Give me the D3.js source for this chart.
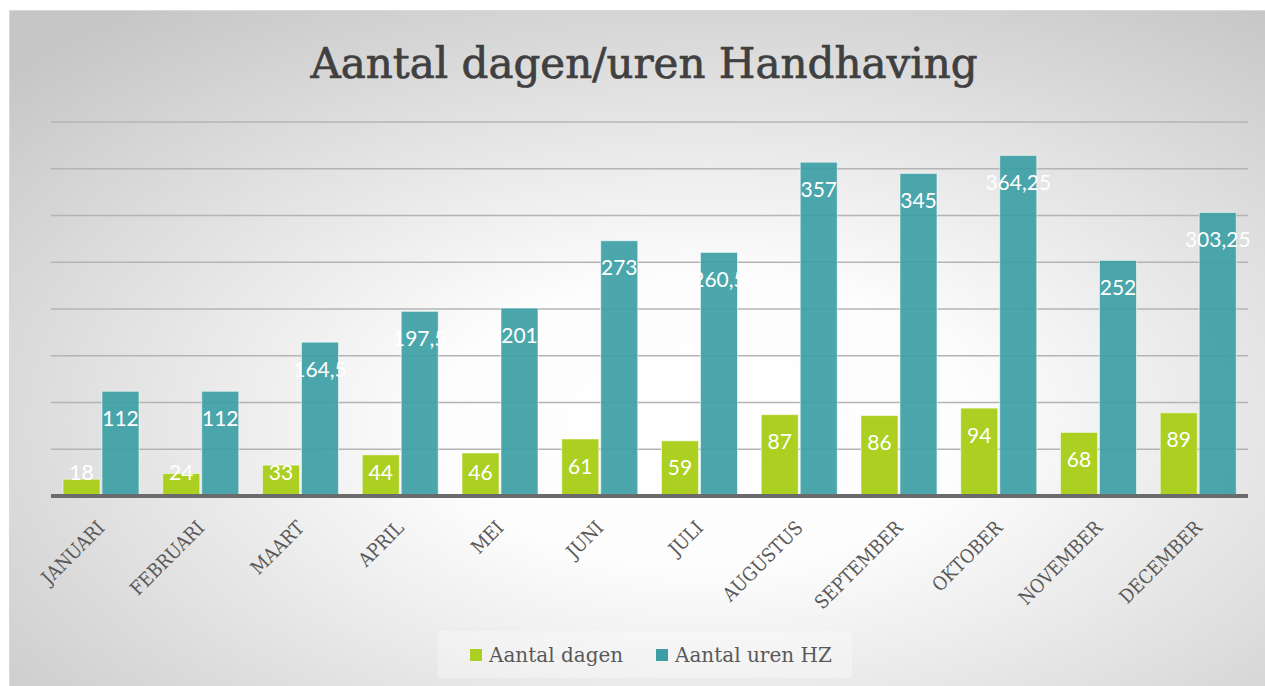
<!DOCTYPE html>
<html>
<head>
<meta charset="utf-8">
<script src="https://cdn.jsdelivr.net/npm/d3@7"></script>
<style>
  html, body { margin: 0; padding: 0; background: #fff; }
  svg { display: block; }
</style>
</head>
<body>
<svg id="chart" width="1265" height="686"></svg>
<script>
// data
var months = ["JANUARI", "FEBRUARI", "MAART", "APRIL", "MEI", "JUNI", "JULI",
              "AUGUSTUS", "SEPTEMBER", "OKTOBER", "NOVEMBER", "DECEMBER"];
var seriesNames = ["Aantal dagen", "Aantal uren HZ"];
var dagen = [18, 24, 33, 44, 46, 61, 59, 87, 86, 94, 68, 89];
var uren = [112, 112, 164.5, 197.5, 201, 273, 260.5, 357, 345, 364.25, 252, 303.25];
var gridTicks = [50, 100, 150, 200, 250, 300, 350, 400];

var colors = ["#acd022", "#3d9fa5"];
var slab = "'DejaVu Serif', serif";
var slabCond = "'DejaVu Serif Condensed', 'DejaVu Serif', serif";
var sans = "Lato, 'Open Sans', sans-serif";

var svg = d3.select("#chart");

// achtergrond met radiale verloop
var defs = svg.append("defs");
var grad = defs.append("radialGradient")
    .attr("id", "bg")
    .attr("cx", "0.55").attr("cy", "0.6").attr("r", "0.75");
grad.append("stop").attr("offset", "0").attr("stop-color", "#ffffff");
grad.append("stop").attr("offset", "0.28").attr("stop-color", "#fdfdfd");
grad.append("stop").attr("offset", "1").attr("stop-color", "#c6c6c6");

svg.append("rect")
    .attr("x", 9.5).attr("y", 10.5)
    .attr("width", 1265).attr("height", 686)
    .attr("fill", "url(#bg)")
    .attr("stroke", "#d9d9d9");

// titel
svg.append("text")
    .attr("x", 644).attr("y", 78)
    .attr("text-anchor", "middle")
    .attr("font-family", slab)
    .attr("font-size", 42)
    .attr("fill", "#404040")
    .attr("stroke", "#404040")
    .attr("stroke-width", 0.7)
    .text("Aantal dagen/uren Handhaving");

// schalen
var x0 = d3.scaleBand().domain(months).range([51, 1248]);
var x1 = d3.scaleBand().domain(seriesNames).range([12, 88]).paddingInner(0.05);
var y = d3.scaleLinear().domain([0, 400]).range([496, 122]);

// rasterlijnen
svg.append("g")
    .selectAll("line")
    .data(gridTicks)
    .enter().append("line")
    .attr("x1", 51).attr("x2", 1248)
    .attr("y1", function(d) { return y(d); })
    .attr("y2", function(d) { return y(d); })
    .attr("stroke", "#b4b4b4")
    .attr("stroke-width", 1.5);

var rows = months.map(function(m, i) {
  return { month: m, values: [dagen[i], uren[i]] };
});

var groups = svg.append("g")
    .selectAll("g")
    .data(rows)
    .enter().append("g")
    .attr("transform", function(d) { return "translate(" + x0(d.month) + ",0)"; });

var bars = groups.selectAll("g")
    .data(function(d) {
      return d.values.map(function(v, k) { return { name: seriesNames[k], k: k, value: v }; });
    })
    .enter().append("g");

bars.append("rect")
    .attr("x", function(d) { return x1(d.name); })
    .attr("y", function(d) { return y(d.value); })
    .attr("width", x1.bandwidth())
    .attr("height", function(d) { return y(0) - y(d.value); })
    .attr("fill", function(d) { return colors[d.k]; })
    .attr("fill-opacity", function(d) { return d.k ? 0.92 : 1; })
    .attr("stroke", "rgba(255,255,255,0.55)")
    .attr("stroke-width", 1);

// data labels, binnen de bovenkant
bars.append("text")
    .attr("x", function(d) { return x1(d.name) + x1.bandwidth() / 2; })
    .attr("y", function(d) { return Math.min(y(d.value) + 27, 472); })
    .attr("dy", "0.36em")
    .attr("text-anchor", "middle")
    .attr("font-family", sans)
    .attr("font-size", 21)
    .attr("fill", "#ffffff")
    .text(function(d) { return String(d.value).replace(".", ","); });

// basislijn
svg.append("line")
    .attr("x1", 51).attr("x2", 1248)
    .attr("y1", y(0)).attr("y2", y(0))
    .attr("stroke", "#6b6b6b")
    .attr("stroke-width", 4);

// maandlabels schuin
svg.append("g")
    .selectAll("text")
    .data(months)
    .enter().append("text")
    .attr("transform", function(d) {
      return "translate(" + (x0(d) + x0.bandwidth() / 2 + 5) + ",529) rotate(-45)";
    })
    .attr("text-anchor", "end")
    .attr("font-family", slabCond)
    .attr("font-size", 19)
    .attr("fill", "#595959")
    .text(function(d) { return d; });

// legenda
svg.append("rect")
    .attr("x", 438).attr("y", 631)
    .attr("width", 414).attr("height", 47)
    .attr("fill", "#ffffff").attr("fill-opacity", 0.3);

var legendX = [470, 656];
var legend = svg.append("g")
    .selectAll("g")
    .data(seriesNames)
    .enter().append("g")
    .attr("transform", function(d, i) { return "translate(" + legendX[i] + ",649)"; });

legend.append("rect")
    .attr("width", 12).attr("height", 12)
    .attr("fill", function(d, i) { return colors[i]; });

legend.append("text")
    .attr("x", 19).attr("y", 6)
    .attr("dy", "0.35em")
    .attr("font-family", slab)
    .attr("font-size", 20)
    .attr("fill", "#595959")
    .text(function(d) { return d; });
</script>
</body>
</html>
